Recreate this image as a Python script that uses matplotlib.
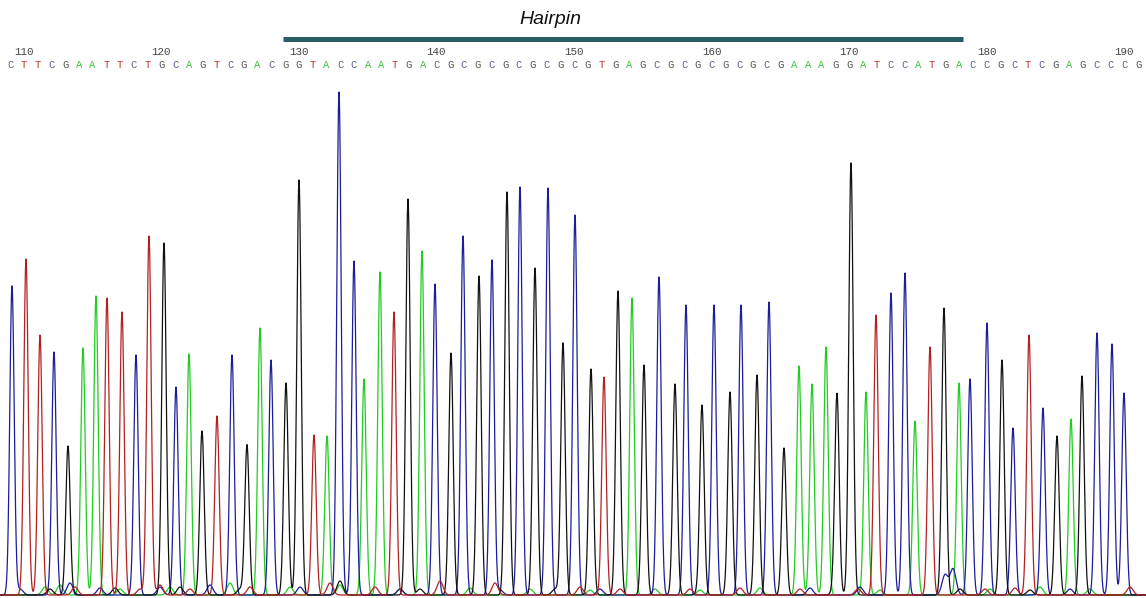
import numpy as np
import matplotlib
matplotlib.use("Agg")
import matplotlib.pyplot as plt

# called bases, positions 109..191
sequence = "CTTCGAATTCTGCAGTCGACGGTACCAATGACGCGCGCGCGCGTGAGCGCGCGCGCGAAAGGATCCATGACCGCTCGAGCCCG"
first_base = 109
tick_bases = [110, 120, 130, 140, 150, 160, 170, 180, 190]

# main peaks: scan position, called base, height
peak_scan = [12, 26, 40, 54, 68, 83, 96, 107, 122, 136, 149, 164, 176, 189,
             202, 217, 232, 247, 260, 271, 286, 299, 314, 327, 339, 354, 364, 380,
             394, 408, 422, 435, 451, 463, 479, 492, 507, 520, 535, 548, 563, 575,
             591, 604, 618, 632, 644, 659, 675, 686, 702, 714, 730, 741, 757, 769,
             784, 799, 812, 826, 837, 851, 866, 876, 891, 905, 915, 930, 944, 959,
             970, 987, 1002, 1013, 1029, 1043, 1057, 1071, 1082, 1097, 1112, 1124]
peak_base = sequence[:82]
peak_height = [309, 336, 260, 243, 149, 247, 299, 297, 283, 240, 359, 352, 208, 241,
               164, 179, 240, 150, 267, 235, 212, 415, 160, 159, 503, 334, 216, 323,
               283, 396, 344, 311, 242, 359, 319, 335, 403, 408, 327, 407, 252, 380,
               226, 218, 304, 297, 230, 318, 211, 290, 186, 290, 203, 290, 220, 293,
               147, 229, 211, 248, 197, 432, 203, 280, 302, 322, 174, 248, 287, 212,
               216, 272, 235, 167, 260, 187, 159, 176, 219, 262, 251, 202]

# small background bumps seen along the baseline (scan, height)
bg_A = [(45, 8), (60, 10), (120, 6), (170, 8), (230, 12), (290, 8), (340, 10), (400, 6),
        (470, 7), (530, 6), (590, 5), (655, 6), (700, 5), (760, 7), (880, 5), (990, 6),
        (1040, 8), (1090, 6)]
bg_T = [(75, 8), (140, 6), (160, 10), (190, 6), (250, 8), (330, 12), (375, 8), (440, 14),
        (495, 12), (580, 8), (620, 6), (690, 6), (740, 7), (800, 6), (858, 6), (985, 6),
        (1015, 7), (1130, 8)]
bg_C = [(20, 6), (70, 12), (100, 7), (160, 8), (210, 10), (300, 8), (400, 6), (500, 5),
        (600, 6), (810, 7), (860, 8), (945, 20), (953, 26), (1070, 6)]
bg_G = [(50, 6), (115, 7), (180, 8), (240, 6), (340, 14), (420, 6), (555, 6), (700, 5),
        (835, 6), (960, 6), (1030, 5)]
background = {"A": bg_A, "T": bg_T, "C": bg_C, "G": bg_G}

trace_colors = {"A": "#22cc22", "C": "#1c1c9c", "G": "#111111", "T": "#b42020"}
letter_colors = {"A": "#3cc03c", "C": "#55608a", "G": "#555555", "T": "#c23232"}

fig = plt.figure(figsize=(11.46, 5.98), dpi=100)
ax = fig.add_axes([0, 0, 1, 1])
ax.set_xlim(0, 1146)
ax.set_ylim(-3, 595)
ax.axis("off")

x = np.arange(0, 1146, 0.2)
sigma = 2.2
for base in "ACGT":
    y = np.zeros_like(x)
    for pos, b, h in zip(peak_scan, peak_base, peak_height):
        if b == base:
            y += h * np.exp(-0.5 * ((x - pos) / sigma) ** 2)
    for pos, h in background[base]:
        y += h * np.exp(-0.5 * ((x - pos) / 3.0) ** 2)
    ax.plot(x, y, color=trace_colors[base], lw=0.9)

# base calls and position numbers
letter_x = np.linspace(10, 1138, len(sequence))
for i, b in enumerate(sequence):
    ax.text(letter_x[i], 530, b, color=letter_colors[b], fontsize=7.6,
            family="Liberation Mono", ha="center", va="center")
for t in tick_bases:
    ax.text(letter_x[t - first_base], 543, str(t), color="#444444", fontsize=7.8,
            family="Liberation Mono", ha="center", va="center")

# hairpin annotation
ax.plot([283, 963], [556.5, 556.5], color="#2c5c68", lw=3.6, solid_capstyle="butt")
ax.text(550, 575, "Hairpin", fontsize=14, style="italic", family="Liberation Sans",
        ha="center", va="center", color="#111111")

fig.savefig("out.png", dpi=100, facecolor="white")
